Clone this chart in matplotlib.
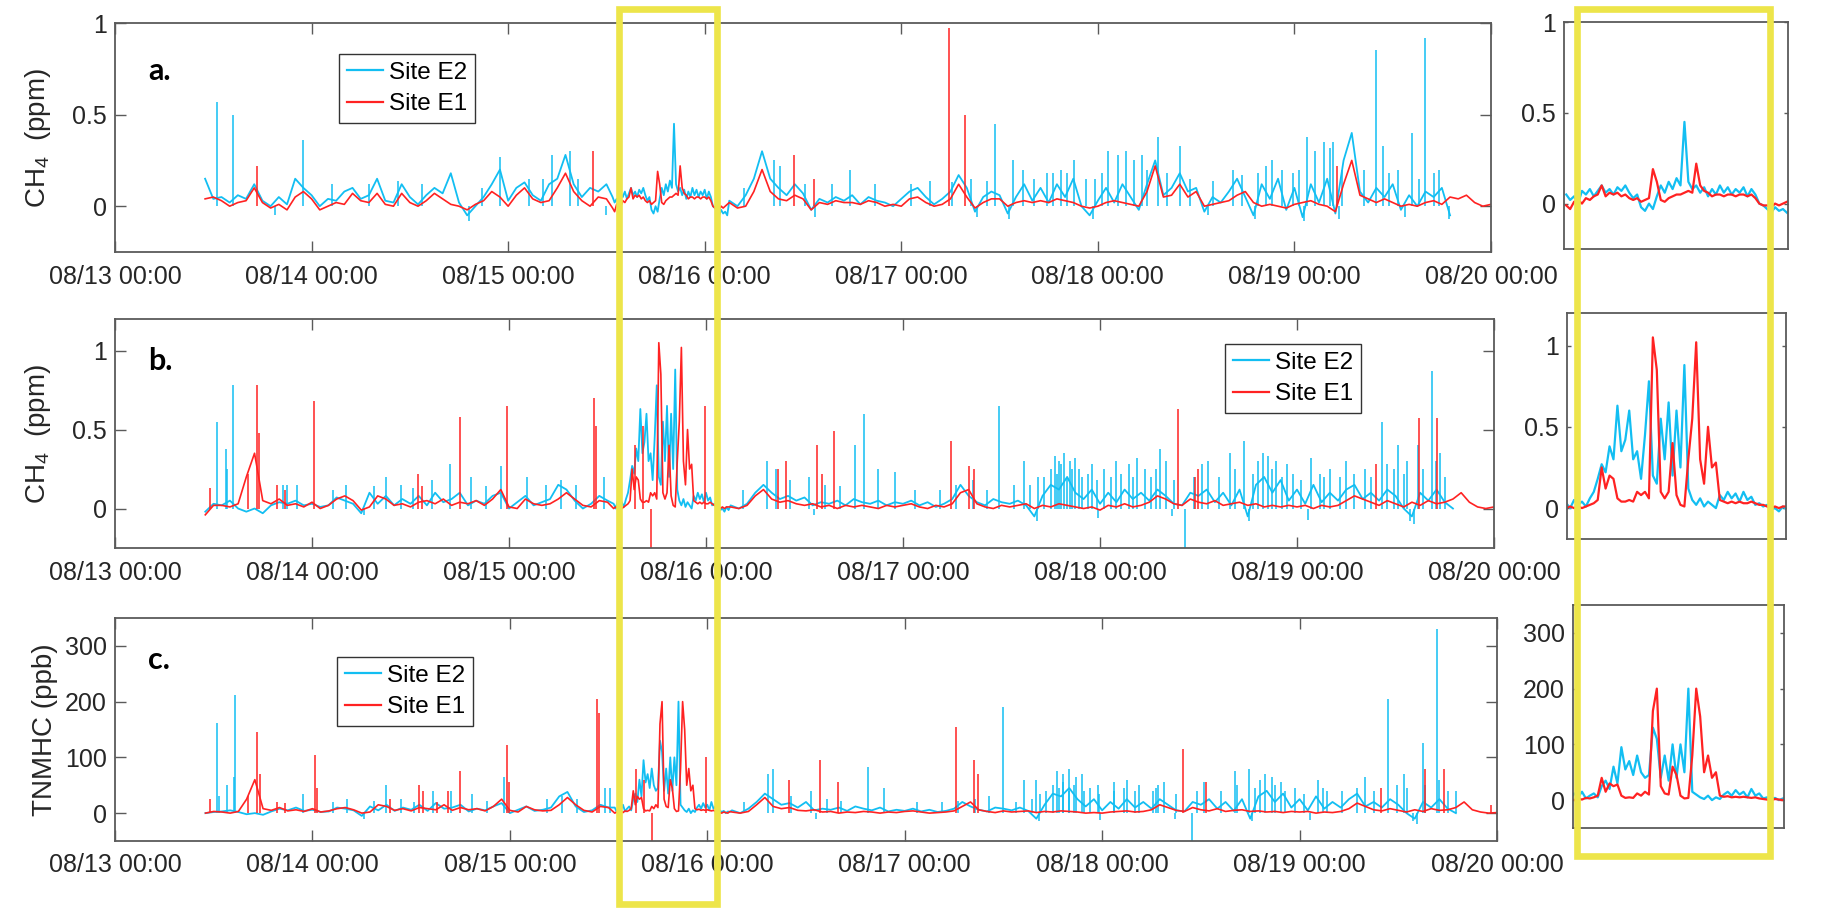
import numpy as np
import matplotlib
matplotlib.use("Agg")
import matplotlib.pyplot as plt
from matplotlib.patches import Rectangle

plt.rcParams['font.family'] = ['Liberation Sans', 'DejaVu Sans']
plt.rcParams['mathtext.default'] = 'regular'

# ---------------- data (time in hours since 08/13 00:00) ----------------
x_tick_hours = [0, 24, 48, 72, 96, 120, 144, 168]
x_tick_labels = ['08/13 00:00', '08/14 00:00', '08/15 00:00', '08/16 00:00',
                 '08/17 00:00', '08/18 00:00', '08/19 00:00', '08/20 00:00']

pre_start = 11        # hourly samples 11..60 h
fine_start = 60.75    # 15-min samples 60.75..74.75 h (zoom window)
fine_step = 0.25
post_start = 75       # hourly samples from 75 h on

# ---- panel a: CH4 (ppm)
e1_a_pre = [0.04, 0.05, 0.03, 0.0, 0.02, 0.03, 0.1, 0.02, -0.01, 0.01,
            -0.02, 0.05, 0.08, 0.04, -0.02, 0.0, 0.02, 0.01, 0.07, 0.03,
            0.02, 0.07, 0.01, 0.0, 0.07, 0.02, 0.0, 0.03, 0.07, 0.04,
            0.01, 0.0, -0.02, 0.01, 0.03, 0.08, 0.05, 0.0, 0.06, 0.1,
            0.04, 0.02, 0.03, 0.1, 0.18, 0.08, 0.03, 0.0, 0.05, 0.04]
e1_a_fine = [-0.01, -0.03, 0.01, 0.02, 0.0, 0.03, 0.02, 0.04, 0.05, 0.1,
             0.04, 0.06, 0.05, 0.06, 0.04, 0.05, 0.03, 0.02, 0.03, 0.01,
             0.02, 0.03, 0.19, 0.12, 0.02, 0.01, 0.03, 0.04, 0.05, 0.05,
             0.06, 0.07, 0.06, 0.22, 0.1, 0.07, 0.06, 0.04, 0.05, 0.05,
             0.04, 0.05, 0.05, 0.04, 0.05, 0.05, 0.04, 0.05, 0.03, 0.0,
             -0.01, -0.01, -0.02, 0.0, -0.01, 0.0, 0.01]
e1_a_post = [0.02, -0.01, 0.0, 0.08, 0.2, 0.08, 0.04, 0.03, 0.06, 0.04,
             -0.02, 0.02, 0.01, 0.03, 0.02, 0.02, 0.01, 0.03, 0.02, 0.0,
             0.01, 0.0, 0.04, 0.05, 0.02, 0.0, 0.01, 0.04, 0.12, 0.05,
             -0.01, 0.02, 0.04, 0.04, 0.0, 0.02, 0.03, 0.02, 0.03, 0.02,
             0.04, 0.03, 0.02, 0.0, -0.01, 0.0, 0.02, 0.03, 0.02, 0.01,
             0.0, 0.08, 0.22, 0.05, 0.06, 0.12, 0.05, 0.08, 0.0, 0.01,
             0.02, 0.03, 0.06, 0.08, 0.02, 0.0, 0.01, 0.0, -0.01, 0.01,
             0.02, 0.03, 0.01, 0.0, -0.03, 0.12, 0.25, 0.06, 0.04, 0.02,
             0.04, 0.02, 0.0, 0.01, 0.0, 0.02, 0.03, 0.01, 0.05, 0.04,
             0.06, 0.02, 0.0, 0.01]
e1_a_spike_t = [17.3, 58.4, 82.9, 85.3, 101.8, 103.8, 149.2]
e1_a_spike_v = [0.22, 0.30, 0.28, 0.15, 0.97, 0.50, 0.22]

e2_a_pre = [0.15, 0.04, 0.05, 0.02, 0.06, 0.04, 0.12, 0.03, 0.0, 0.05,
            0.01, 0.15, 0.1, 0.06, 0.0, 0.04, 0.03, 0.08, 0.1, 0.04,
            0.06, 0.15, 0.03, 0.02, 0.12, 0.05, 0.01, 0.06, 0.1, 0.07,
            0.18, 0.02, -0.05, 0.0, 0.05, 0.12, 0.2, 0.03, 0.1, 0.13,
            0.06, 0.03, 0.12, 0.15, 0.28, 0.12, 0.05, 0.1, 0.08, 0.12]
e2_a_fine = [0.05, 0.02, 0.04, 0.0, 0.07, 0.05, 0.08, 0.04, 0.07, 0.1,
             0.06, 0.08, 0.05, 0.09, 0.07, 0.1, 0.06, 0.03, 0.05, -0.02,
             -0.04, 0.0, -0.03, 0.04, 0.1, 0.06, 0.12, 0.08, 0.14, 0.1,
             0.45, 0.12, 0.08, 0.1, 0.06, 0.09, 0.04, 0.08, 0.05, 0.1,
             0.06, 0.09, 0.05, 0.08, 0.06, 0.09, 0.04, 0.08, 0.05, 0.0,
             -0.01, -0.03, -0.05, -0.02, -0.04, -0.03, -0.05]
e2_a_post = [0.03, 0.0, 0.06, 0.15, 0.3, 0.15, 0.1, 0.06, 0.12, 0.07,
             -0.02, 0.04, 0.02, 0.05, 0.03, 0.06, 0.01, 0.05, 0.03, 0.02,
             0.0, 0.04, 0.08, 0.1, 0.05, 0.01, 0.04, 0.08, 0.17, 0.1,
             -0.03, 0.05, 0.08, 0.06, -0.04, 0.05, 0.12, 0.03, 0.1, 0.02,
             0.12, 0.05, 0.15, 0.0, -0.05, 0.03, 0.1, 0.02, 0.12, 0.05,
             -0.02, 0.12, 0.25, 0.06, 0.1, 0.18, 0.08, 0.1, -0.03, 0.05,
             0.02, 0.08, 0.15, 0.05, -0.05, 0.12, 0.04, 0.15, -0.02, 0.1,
             -0.06, 0.12, 0.02, 0.15, -0.04, 0.25, 0.4, 0.08, 0.02, 0.1,
             0.05, 0.12, -0.02, 0.06, 0.0, 0.08, 0.05, 0.1, -0.05]
e2_a_spike_t = [12.4, 14.4, 22.9, 47.0, 53.3, 55.5, 80.5, 81.2, 89.7, 107.4,
                109.6, 110.8, 113.8, 115.5, 117.1, 119.6, 121.2, 122.4, 123.4, 124.4,
                125.4, 127.3, 130.0, 136.5, 139.5, 141.3, 142.5, 145.5, 146.5, 147.6,
                148.4, 148.7, 154.0, 154.8, 158.4, 160.0, 161.7]
e2_a_spike_v = [0.57, 0.50, 0.36, 0.27, 0.28, 0.30, 0.25, 0.22, 0.20, 0.45,
                0.25, 0.20, 0.18, 0.20, 0.25, 0.15, 0.30, 0.28, 0.30, 0.25,
                0.28, 0.38, 0.33, 0.20, 0.18, 0.25, 0.20, 0.38, 0.30, 0.35,
                0.32, 0.35, 0.85, 0.33, 0.40, 0.92, 0.20]
# smaller excursions of the noisy E2 trace (panel a)
e2_a_small_t = [26.5, 31.0, 34.5, 37.5, 44.8, 50.5, 52.2, 56.5, 76.8, 84.2,
                87.5, 92.8, 97.2, 99.5, 102.2, 104.5, 106.5, 112.2, 114.5, 116.2,
                118.5, 120.5, 126.0, 128.5, 131.2, 134.0, 137.6, 140.5, 143.8, 144.6,
                149.8, 152.5, 155.5, 156.6, 159.2, 161.0,
                19.5, 43.2, 60.0, 85.5, 105.3, 109.2, 119.4, 133.5, 139.2, 145.2,
                149.4, 157.5, 162.9]
e2_a_small_v = [0.12, 0.12, 0.14, 0.12, 0.10, 0.15, 0.15, 0.15, 0.10, 0.12,
                0.12, 0.12, 0.12, 0.14, 0.13, 0.15, 0.14, 0.15, 0.18, 0.18,
                0.15, 0.18, 0.20, 0.18, 0.15, 0.14, 0.17, 0.22, 0.18, 0.20,
                0.20, 0.20, 0.18, 0.20, 0.15, 0.18,
                -0.05, -0.08, -0.05, -0.06, -0.06, -0.07, -0.07, -0.05, -0.07, -0.08,
                -0.07, -0.06, -0.07]

# ---- panel b: CH4 (ppm)
e1_b_pre = [-0.04, 0.02, 0.02, 0.01, 0.03, 0.2, 0.35, 0.05, 0.03, 0.06,
            0.02, 0.03, 0.01, 0.04, 0.0, 0.02, 0.06, 0.08, 0.05, -0.01,
            0.01, 0.08, 0.06, 0.02, 0.03, 0.01, 0.04, 0.05, 0.03, 0.06,
            0.02, 0.04, 0.03, 0.05, 0.02, 0.06, 0.12, 0.01, 0.0, 0.06,
            0.03, 0.02, 0.03, 0.06, 0.1, 0.06, 0.02, 0.01, 0.05, 0.04]
e1_b_fine = [0.0, 0.01, 0.0, 0.01, 0.0, 0.01, 0.02, 0.03, 0.05, 0.25,
             0.12, 0.2, 0.18, 0.06, 0.04, 0.04, 0.05, 0.04, 0.1, 0.08,
             0.1, 0.06, 1.05, 0.85, 0.1, 0.06, 0.1, 0.4, 0.08, 0.02,
             0.01, 0.3, 0.55, 1.02, 0.3, 0.15, 0.5, 0.25, 0.28, 0.05,
             0.04, 0.03, 0.04, 0.03, 0.04, 0.03, 0.03, 0.04, 0.03, 0.02,
             0.02, 0.01, 0.0, 0.01, 0.0, 0.01, 0.01]
e1_b_post = [0.01, 0.0, 0.02, 0.08, 0.12, 0.06, 0.04, 0.05, 0.03, 0.02,
             0.03, 0.01, 0.02, 0.0, 0.02, 0.01, 0.02, 0.01, 0.0, 0.02,
             0.01, 0.02, 0.03, 0.01, 0.0, 0.02, 0.01, 0.03, 0.1, 0.12,
             0.03, 0.01, 0.0, 0.02, 0.01, 0.02, 0.03, 0.0, 0.02, 0.01,
             0.03, 0.02, 0.01, 0.0, 0.01, -0.01, 0.02, 0.01, 0.03, 0.01,
             0.02, 0.04, 0.08, 0.06, 0.03, 0.02, 0.06, 0.04, 0.03, 0.05,
             0.02, 0.03, 0.04, 0.02, 0.03, 0.01, 0.02, 0.01, 0.02, 0.01,
             0.02, 0.0, 0.02, 0.01, 0.02, 0.05, 0.08, 0.06, 0.04, 0.02,
             0.05, 0.03, 0.01, 0.04, 0.02, 0.05, 0.03, 0.04, 0.06, 0.1,
             0.04, 0.01, 0.0, 0.01]
e1_b_spike_t = [11.6, 16.2, 17.3, 17.6, 19.7, 20.7, 24.3, 36.9, 37.4, 42.0,
                47.7, 58.4, 58.6, 63.3, 64.3, 65.3, 71.9, 80.8, 81.7, 85.5,
                86.1, 87.6, 101.9, 104.1, 104.6, 129.5, 131.6, 132.0, 153.6, 158.9,
                161.1]
e1_b_spike_v = [0.13, 0.22, 0.78, 0.48, 0.15, 0.12, 0.68, 0.22, 0.14, 0.58,
                0.65, 0.70, 0.52, 0.40, 0.52, -0.30, 0.65, 0.25, 0.30, 0.40,
                0.22, 0.49, 0.43, 0.27, 0.25, 0.63, 0.20, 0.25, 0.28, 0.57,
                0.57]

e2_b_pre = [-0.02, 0.03, 0.02, 0.05, 0.0, -0.02, 0.0, -0.03, 0.02, 0.04,
            0.03, 0.05, 0.02, 0.03, 0.01, 0.02, 0.07, 0.05, 0.03, -0.03,
            0.1, 0.03, 0.08, 0.02, 0.06, 0.03, 0.08, 0.02, 0.1, 0.04,
            0.06, 0.1, 0.02, 0.05, 0.03, 0.08, 0.1, 0.0, 0.04, 0.08,
            0.02, 0.04, 0.06, 0.15, 0.12, 0.05, 0.0, 0.03, 0.08, 0.05]
e2_b_fine = [0.03, 0.0, 0.05, 0.02, 0.04, 0.01, 0.06, 0.10, 0.18, 0.27,
             0.22, 0.38, 0.30, 0.63, 0.35, 0.42, 0.60, 0.30, 0.35, 0.18,
             0.45, 0.78, 0.20, 0.15, 0.55, 0.30, 0.65, 0.20, 0.60, 0.25,
             0.88, 0.12, 0.05, 0.02, 0.06, 0.01, 0.04, 0.02, 0.0, 0.08,
             0.05, 0.10, 0.06, 0.09, 0.04, 0.10, 0.05, 0.07, 0.02, 0.03,
             0.01, 0.02, -0.01, 0.0, -0.02, 0.01, -0.01]
e2_b_post = [0.02, 0.0, 0.03, 0.1, 0.15, 0.1, 0.06, 0.08, 0.05, 0.07,
             0.02, 0.04, 0.03, 0.05, 0.02, 0.06, 0.04, 0.03, 0.05, 0.02,
             0.04, 0.03, 0.05, 0.02, 0.04, 0.01, 0.03, 0.06, 0.15, 0.08,
             0.04, 0.02, 0.06, 0.04, 0.03, 0.05, 0.02, -0.05, 0.08, 0.15,
             0.12, 0.2, 0.1, 0.06, 0.12, 0.03, 0.1, 0.04, 0.12, 0.06,
             0.1, 0.05, 0.12, 0.08, 0.03, 0.02, 0.1, 0.08, 0.12, 0.04,
             0.1, 0.02, 0.12, -0.05, 0.15, 0.2, 0.1, 0.18, 0.05, 0.12,
             0.03, 0.15, 0.04, 0.1, 0.05, 0.12, 0.15, 0.06, 0.1, 0.05,
             0.12, 0.08, 0.0, -0.05, 0.1, 0.05, 0.12, 0.04, 0.0]
e2_b_spike_t = [12.4, 13.5, 13.7, 14.4, 20.5, 21.0, 22.2, 33.0, 38.6, 40.8,
                43.4, 47.0, 50.2, 59.6, 79.4, 80.5, 84.6, 90.1, 91.2, 93.0,
                95.0, 107.7, 110.8, 114.5, 115.0, 115.6, 116.3, 117.0, 117.5, 119.0,
                120.5, 122.0, 123.5, 124.5, 125.5, 127.3, 128.0, 130.4, 133.2, 135.8,
                137.5, 139.8, 140.5, 141.5, 142.8, 145.7, 148.0, 150.0, 152.3, 154.3,
                155.0, 156.3, 157.4, 158.7, 160.4, 161.4]
e2_b_spike_v = [0.55, 0.38, 0.25, 0.78, 0.15, 0.15, 0.15, 0.20, 0.18, 0.28,
                0.20, 0.27, 0.20, 0.20, 0.30, 0.25, 0.20, 0.40, 0.60, 0.25,
                0.23, 0.65, 0.30, 0.33, 0.30, 0.35, 0.30, 0.32, 0.25, 0.28,
                0.25, 0.30, 0.28, 0.32, 0.25, 0.38, 0.30, -0.30, 0.30, 0.35,
                0.43, 0.35, 0.33, 0.30, 0.28, 0.32, 0.25, 0.30, 0.25, 0.55,
                0.28, 0.40, 0.30, 0.40, 0.87, 0.35]
# smaller excursions of the noisy E2 trace (panels b and c share the times)
e2_bc_small_t = [26.5, 28.2, 31.5, 34.8, 36.3, 45.2, 52.5, 54.3, 56.2, 76.5,
                 82.2, 86.5, 88.3, 97.5, 100.5, 102.5, 104.5, 106.2, 109.5, 111.5,
                 112.5, 113.2, 114.0, 114.8, 115.3, 116.0, 116.6, 117.8, 118.5, 119.6,
                 121.4, 122.6, 124.0, 126.2, 126.8, 129.0, 131.5, 132.4, 134.5, 136.4,
                 138.6, 139.2, 141.0, 142.2, 143.5, 144.5, 146.8, 147.3, 149.2, 151.0,
                 153.0, 155.8, 157.0, 159.3, 160.9, 162.0,
                 30.3, 85.2, 112.3, 119.8, 128.8, 138.2, 145.3, 157.8, 158.3]
e2_b_small_v = [0.12, 0.15, 0.14, 0.15, 0.13, 0.14, 0.15, 0.18, 0.15, 0.12,
                0.18, 0.15, 0.14, 0.12, 0.12, 0.15, 0.18, 0.12, 0.15, 0.15,
                0.20, 0.20, 0.25, 0.22, 0.28, 0.20, 0.25, 0.20, 0.22, 0.18,
                0.20, 0.22, 0.20, 0.20, 0.25, 0.18, 0.20, 0.28, 0.20, 0.25,
                0.22, 0.30, 0.25, 0.20, 0.22, 0.18, 0.22, 0.20, 0.20, 0.22,
                0.20, 0.25, 0.22, 0.25, 0.30, 0.20,
                -0.04, -0.04, -0.08, -0.06, -0.05, -0.08, -0.07, -0.08, -0.10]

# ---- panel c: TNMHC (ppb)
e1_c_pre = [0, 3, 2, 0, 3, 25, 60, 8, 5, 10,
            4, 6, 3, 8, 2, 4, 8, 10, 6, 0,
            2, 15, 12, 5, 8, 4, 10, 8, 6, 15,
            5, 10, 6, 8, 4, 12, 25, 5, 2, 12,
            6, 4, 5, 15, 28, 15, 5, 2, 12, 10]
e1_c_fine = [0, 2, 0, 3, 1, 4, 3, 5, 8, 40,
             15, 30, 25, 28, 8, 4, 5, 4, 12, 8,
             15, 10, 160, 200, 25, 12, 10, 60, 45, 8,
             3, 4, 80, 200, 150, 50, 80, 40, 50, 8,
             6, 7, 5, 6, 5, 6, 5, 4, 5, 3,
             2, 1, 0, 2, 1, 0, 3]
e1_c_post = [2, 0, 3, 15, 28, 12, 8, 10, 5, 4,
             6, 2, 3, 0, 2, 1, 3, 2, 0, 2,
             1, 3, 4, 2, 0, 1, 2, 4, 12, 20,
             6, 3, 1, 4, 2, 3, 4, 1, 3, 2,
             4, 3, 2, 0, 1, 0, 2, 3, 4, 2,
             3, 6, 15, 10, 5, 3, 10, 6, 4, 8,
             3, 5, 6, 3, 4, 2, 3, 1, 3, 2,
             3, 0, 2, 1, 3, 8, 18, 12, 6, 4,
             8, 5, 2, 6, 3, 8, 5, 6, 10, 20,
             6, 2, 0, 1]
e1_c_spike_t = [11.6, 16.2, 17.3, 17.6, 19.7, 20.7, 24.3, 24.5, 33.4, 36.9,
                37.4, 39.1, 40.5, 42.0, 47.7, 47.9, 58.6, 58.8, 63.3, 64.3,
                65.3, 71.9, 81.9, 85.7, 87.9, 102.2, 104.4, 104.9, 129.8, 132.6,
                153.9, 159.2, 161.5, 167.3]
e1_c_spike_v = [25, 30, 145, 70, 20, 18, 104, 45, 25, 50,
                40, 20, 40, 75, 123, 55, 205, 180, 80, 60,
                -50, 100, 60, 95, 55, 155, 95, 70, 115, 55,
                45, 80, 80, 15]

e2_c_pre = [0, 2, 3, 5, 2, -2, 0, -3, 3, 8,
            5, 10, 4, 6, 2, 3, 10, 8, 5, -5,
            12, 5, 15, 4, 10, 6, 15, 4, 18, 8,
            10, 15, 3, 8, 5, 12, 18, 0, 6, 12,
            4, 6, 10, 30, 38, 12, 2, 5, 15, 10]
e2_c_fine = [10, 2, 12, 5, 15, 3, 8, 12, 5, 25,
             35, 20, 60, 30, 95, 55, 70, 45, 80, 50,
             40, 45, 130, 110, 40, 80, 35, 100, 40, 100,
             50, 200, 15, 10, 5, 2, 8, 0, 5, 2,
             10, 15, 8, 18, 10, 15, 5, 20, 8, 12,
             3, 5, 2, 4, 0, 3, 2]
e2_c_post = [5, 0, 8, 20, 35, 25, 15, 18, 10, 20,
             5, 8, 6, 10, 4, 12, 8, 5, 10, 3,
             6, 4, 8, 3, 6, 2, 4, 8, 20, 12,
             6, 3, 10, 8, 5, 10, 4, -10, 15, 35,
             30, 45, 25, 12, 25, 5, 20, 8, 25, 10,
             20, 8, 25, 15, 5, 3, 20, 15, 25, 8,
             20, 4, 25, -10, 30, 40, 20, 35, 10, 25,
             5, 30, 8, 20, 10, 25, 35, 12, 20, 10,
             25, 15, 0, -10, 20, 10, 25, 8, 0]
e2_c_spike_t = [12.4, 12.6, 13.6, 14.5, 14.6, 22.9, 33.0, 38.6, 40.8, 43.4,
                47.3, 59.6, 60.2, 79.4, 80.0, 84.6, 91.5, 93.5, 107.9, 110.5,
                112.0, 114.5, 115.2, 116.0, 116.8, 117.6, 119.5, 121.5, 123.0, 124.5,
                126.5, 127.5, 130.9, 136.2, 137.8, 139.8, 140.6, 141.8, 146.2, 151.9,
                154.8, 156.7, 159.0, 160.7, 163.0]
e2_c_spike_v = [162, 30, 50, 65, 212, 35, 50, 40, 40, 35,
                65, 45, 45, 70, 80, 40, 82, 45, 190, 60,
                60, 75, 70, 80, 65, 70, 50, 55, 60, 50,
                45, 55, -50, 75, 80, 70, 65, 55, 60, 65,
                205, 70, 125, 330, 40]
e2_c_small_v = [20, 25, 22, 25, 20, 22, 25, 30, 25, 20,
                30, 25, 22, 20, 20, 22, 25, 30, 20, 25,
                35, 40, 50, 45, 55, 40, 50, 40, 45, 35,
                40, 45, 40, 40, 50, 35, 40, 55, 40, 50,
                45, 60, 50, 40, 45, 35, 45, 40, 40, 45,
                40, 50, 45, 50, 60, 40,
                -10, -10, -15, -12, -10, -15, -12, -15, -20]

ylabels = ['CH$_4$  (ppm)', 'CH$_4$  (ppm)', 'TNMHC (ppb)']
panel_letters = ['a.', 'b.', 'c.']
ylims = [(-0.25, 1.0), (-0.25, 1.2), (-50, 350)]
yticks = [[0, 0.5, 1], [0, 0.5, 1], [0, 100, 200, 300]]
ytick_labels = [['0', '0.5', '1'], ['0', '0.5', '1'], ['0', '100', '200', '300']]
inset_ylims = [(-0.25, 1.0), (-0.19, 1.2), (-50, 350)]
inset_xlims = [(60.61, 74.82), (60.8, 74.7), (61.18, 74.57)]
series_names = ['Site E2', 'Site E1']

# ---------------- layout (pixels) ----------------
W, H = 1830, 914
BLUE = '#12BEF2'
RED = '#FF2222'
YELLOW = '#EDE54A'
SPINE = '#5a5a5a'
TXT = '#262626'

fig = plt.figure(figsize=(W / 100, H / 100), dpi=100)


def add_ax(l, t, r, b):
    return fig.add_axes([l / W, 1 - b / H, (r - l) / W, (b - t) / H])


main_boxes = [(115, 23, 1491, 252), (115, 319, 1494, 548), (115, 618, 1497, 841)]
inset_boxes = [(1564, 22, 1788, 249), (1567, 313, 1786, 539), (1573, 605, 1784, 828)]
legend_anchor = [(339, 54), (1225, 344), (337, 657)]
letter_pos = [(148, 71), (148, 361), (148, 660)]
ylabel_x = [38, 38, 45]


def build(pre, fine, post):
    t = np.concatenate([pre_start + np.arange(len(pre)),
                        fine_start + fine_step * np.arange(len(fine)),
                        post_start + np.arange(len(post))])
    v = np.concatenate([pre, fine, post]).astype(float)
    return t, v


def spikes(ax, ts, vs, color):
    n = min(len(ts), len(vs))
    ax.vlines(ts[:n], 0, vs[:n], color=color, lw=1.1)


def style(ax, ylim, yt, ytl, xlim, main=True):
    ax.set_xlim(*xlim)
    ax.set_ylim(*ylim)
    ax.set_yticks(yt)
    ax.set_yticklabels(ytl)
    if main:
        ax.set_xticks(x_tick_hours)
        ax.set_xticklabels(x_tick_labels)
        ax.tick_params(axis='x', direction='in', top=True, bottom=True,
                       length=8, width=1, color=SPINE, pad=9,
                       labelsize=18, labelcolor=TXT)
        ax.tick_params(axis='y', direction='in', left=True, right=True,
                       length=8, width=1, color=SPINE, pad=6,
                       labelsize=18, labelcolor=TXT)
    else:
        ax.set_xticks([])
        ax.tick_params(axis='y', direction='in', left=True, right=True,
                       length=3, width=1, color=SPINE, pad=6,
                       labelsize=18, labelcolor=TXT)
    for s in ax.spines.values():
        s.set_color(SPINE)
        s.set_linewidth(1.3)


panels = [
    (e2_a_pre, e2_a_fine, e2_a_post, [(e2_a_spike_t, e2_a_spike_v), (e2_a_small_t, e2_a_small_v)],
     e1_a_pre, e1_a_fine, e1_a_post, e1_a_spike_t, e1_a_spike_v),
    (e2_b_pre, e2_b_fine, e2_b_post, [(e2_b_spike_t, e2_b_spike_v), (e2_bc_small_t, e2_b_small_v)],
     e1_b_pre, e1_b_fine, e1_b_post, e1_b_spike_t, e1_b_spike_v),
    (e2_c_pre, e2_c_fine, e2_c_post, [(e2_c_spike_t, e2_c_spike_v), (e2_bc_small_t, e2_c_small_v)],
     e1_c_pre, e1_c_fine, e1_c_post, e1_c_spike_t, e1_c_spike_v),
]

for i, p in enumerate(panels):
    (b_pre, b_fine, b_post, b_spk, r_pre, r_fine, r_post, r_st, r_sv) = p
    ax = add_ax(*main_boxes[i])
    tb, vb = build(b_pre, b_fine, b_post)
    tr, vr = build(r_pre, r_fine, r_post)
    lb, = ax.plot(tb, vb, color=BLUE, lw=1.3, label=series_names[0])
    for (st, sv) in b_spk:
        spikes(ax, st, sv, BLUE)
    lr, = ax.plot(tr, vr, color=RED, lw=1.2, label=series_names[1])
    spikes(ax, r_st, r_sv, RED)
    style(ax, ylims[i], yticks[i], ytick_labels[i], (0, 168), main=True)

    lx, ly = legend_anchor[i]
    leg = ax.legend(handles=[lb, lr], loc='upper left',
                    bbox_to_anchor=(lx / W, 1 - ly / H), bbox_transform=fig.transFigure,
                    fontsize=17.5, frameon=True, fancybox=False, framealpha=1,
                    edgecolor='#333333', handlelength=1.5, handletextpad=0.25,
                    labelspacing=0.38, borderpad=0.32, borderaxespad=0)
    leg.get_frame().set_linewidth(1.0)
    for h in leg.get_lines():
        h.set_linewidth(1.6)

    px, py = letter_pos[i]
    fig.text(px / W, 1 - py / H, panel_letters[i], fontsize=22, fontweight='bold',
             family=['Lato', 'DejaVu Sans'], ha='left', va='center', color='black')

    mb = main_boxes[i]
    fig.text(ylabel_x[i] / W, 1 - ((mb[1] + mb[3]) / 2) / H, ylabels[i], rotation=90,
             fontsize=20, ha='center', va='center', color=TXT)

    # zoomed inset
    axi = add_ax(*inset_boxes[i])
    tfi = fine_start + fine_step * np.arange(len(b_fine))
    axi.plot(tfi, b_fine, color=BLUE, lw=1.6)
    tfr = fine_start + fine_step * np.arange(len(r_fine))
    axi.plot(tfr, r_fine, color=RED, lw=1.6)
    style(axi, inset_ylims[i], yticks[i], ytick_labels[i], inset_xlims[i], main=False)

# yellow highlight boxes
for (x0, y0, x1, y1) in [(619, 9, 717, 904), (1576.5, 9, 1770, 856)]:
    fig.add_artist(Rectangle((x0 / W, 1 - y1 / H), (x1 - x0) / W, (y1 - y0) / H,
                             transform=fig.transFigure, fill=False,
                             edgecolor=YELLOW, linewidth=4.8, zorder=20))

fig.savefig('out.png', dpi=100)
